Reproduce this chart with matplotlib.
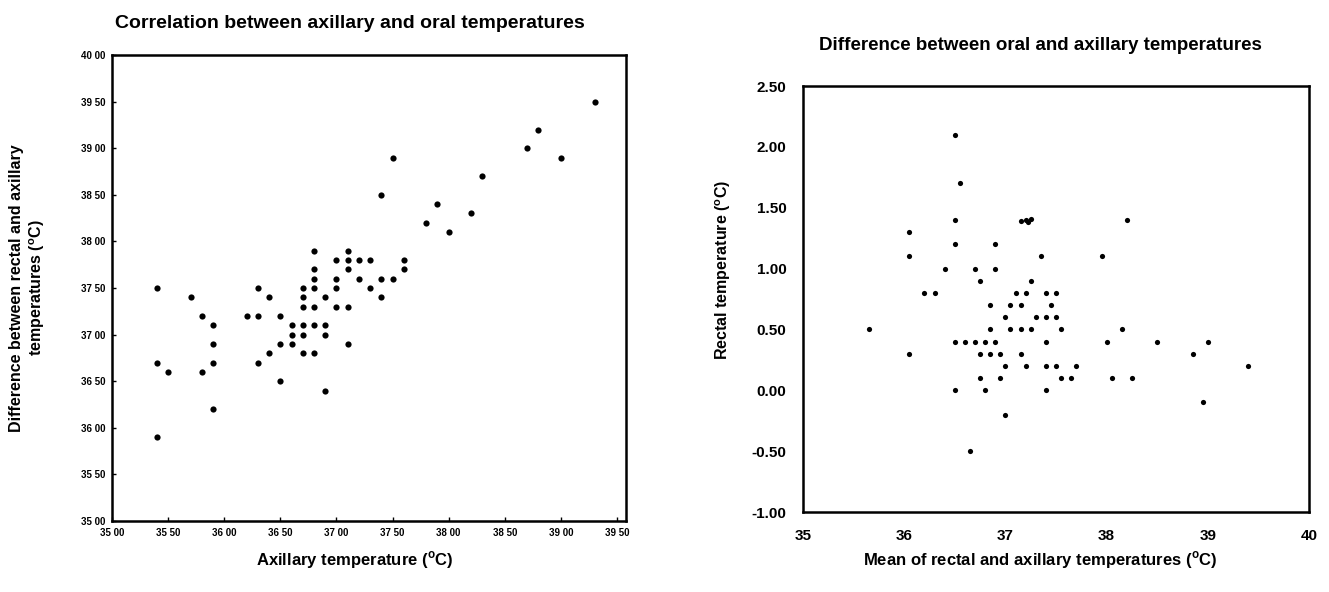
#!/usr/bin/env python3
"""Two scatter panels: axillary vs oral temperatures, and a difference plot."""

import matplotlib

matplotlib.use("Agg")
import matplotlib.pyplot as plt

# ---------------------------------------------------------------------------
# Data.
# ---------------------------------------------------------------------------
# Left panel: axillary temperature (x) vs the other reading (y)
LEFT_X = [
    35.4, 35.7, 36.3, 36.4, 36.7, 36.8, 37.0, 36.7, 36.9, 36.7, 36.8, 37.0,
    37.1, 36.8, 37.0, 37.1, 36.8, 37.2, 35.8, 36.2, 36.3, 36.5, 35.9, 36.6,
    36.7, 36.8, 36.9, 36.6, 36.7, 36.9, 35.9, 36.5, 36.6, 37.1, 36.4, 36.7,
    36.8, 35.4, 35.9, 36.3, 35.5, 35.8, 36.5, 36.9, 35.9, 35.4,
    36.8, 37.1, 37.0, 37.1, 37.2, 37.3, 37.6, 37.6, 37.4, 37.5, 37.3, 37.4,
    39.3, 38.8, 38.7, 39.0, 37.5, 38.3, 37.4, 37.9, 38.2, 37.8, 38.0,
]
LEFT_Y = [
    37.5, 37.4, 37.5, 37.4, 37.5, 37.5, 37.5, 37.4, 37.4, 37.3, 37.3, 37.3,
    37.3, 37.6, 37.6, 37.7, 37.7, 37.6, 37.2, 37.2, 37.2, 37.2, 37.1, 37.1,
    37.1, 37.1, 37.1, 37.0, 37.0, 37.0, 36.9, 36.9, 36.9, 36.9, 36.8, 36.8,
    36.8, 36.7, 36.7, 36.7, 36.6, 36.6, 36.5, 36.4, 36.2, 35.9,
    37.9, 37.9, 37.8, 37.8, 37.8, 37.8, 37.8, 37.7, 37.6, 37.6, 37.5, 37.4,
    39.5, 39.2, 39.0, 38.9, 38.9, 38.7, 38.5, 38.4, 38.3, 38.2, 38.1,
]

# Right panel: mean of the two readings (x) vs difference (y)
RIGHT_X = [
    36.5, 36.55, 36.5, 37.15, 37.2, 37.25, 37.22, 38.2, 36.05, 36.5, 36.9,
    36.05, 37.35, 37.95, 36.4, 36.7, 36.9,
    36.75, 37.25,
    36.2, 36.3, 37.1, 37.2, 37.4, 37.5,
    36.85, 37.05, 37.15, 37.45,
    37.0, 37.3, 37.4, 37.5,
    35.65, 36.85, 37.05, 37.15, 37.25, 37.55, 38.15,
    36.5, 36.6, 36.7, 36.8, 36.9, 37.4, 38.0, 38.5, 39.0,
    36.05, 36.75, 36.85, 36.95, 37.15, 38.85,
    37.0, 37.2, 37.4, 37.5, 37.7, 39.4,
    36.75, 36.95, 37.55, 37.65, 38.05, 38.25,
    36.5, 36.8, 37.4,
    37.0, 38.95, 36.65,
]
RIGHT_Y = [
    2.1, 1.7, 1.4, 1.39, 1.40, 1.41, 1.38, 1.4, 1.3, 1.2, 1.2,
    1.1, 1.1, 1.1, 1.0, 1.0, 1.0,
    0.9, 0.9,
    0.8, 0.8, 0.8, 0.8, 0.8, 0.8,
    0.7, 0.7, 0.7, 0.7,
    0.6, 0.6, 0.6, 0.6,
    0.5, 0.5, 0.5, 0.5, 0.5, 0.5, 0.5,
    0.4, 0.4, 0.4, 0.4, 0.4, 0.4, 0.4, 0.4, 0.4,
    0.3, 0.3, 0.3, 0.3, 0.3, 0.3,
    0.2, 0.2, 0.2, 0.2, 0.2, 0.2,
    0.1, 0.1, 0.1, 0.1, 0.1, 0.1,
    0.0, 0.0, 0.0,
    -0.2, -0.1, -0.5,
]

LEFT_TICKS = [35.0 + 0.5 * i for i in range(10)]
LEFT_YTICKS = [35.0 + 0.5 * i for i in range(11)]
RIGHT_XTICKS = [35, 36, 37, 38, 39, 40]
RIGHT_YTICKS = [-1.0, -0.5, 0.0, 0.5, 1.0, 1.5, 2.0, 2.5]

DEG = r"($^{\mathbf{o}}$C)"

W, H = 1329, 592
plt.rcParams["font.family"] = ["Liberation Sans", "DejaVu Sans"]
plt.rcParams["font.weight"] = "bold"
plt.rcParams["mathtext.fontset"] = "custom"
plt.rcParams["mathtext.bf"] = "Liberation Sans:bold"
plt.rcParams["mathtext.rm"] = "Liberation Sans:bold"


def px_box(x0, y0, x1, y1):
    """Pixel box (left, top, right, bottom) -> figure-fraction rect."""
    return [x0 / W, 1 - y1 / H, (x1 - x0) / W, (y1 - y0) / H]


def space_label(v):
    return f"{v:.2f}".replace(".", " ")


fig = plt.figure(figsize=(W / 100, H / 100), dpi=100)

# ---- left panel ----
ax_l = fig.add_axes(px_box(112, 55, 626, 521))
ax_l.scatter(LEFT_X, LEFT_Y, s=20, c="black", marker="o", linewidths=0)
ax_l.set_xlim(35, 39.58)
ax_l.set_ylim(35, 40)
ax_l.set_xticks(LEFT_TICKS)
ax_l.set_xticklabels([space_label(v) for v in LEFT_TICKS], fontsize=7)
ax_l.set_yticks(LEFT_YTICKS)
ax_l.set_yticklabels([space_label(v) for v in LEFT_YTICKS], fontsize=7)
ax_l.tick_params(direction="in", length=3, width=1, pad=5)

fig.text(350 / W, 1 - 24 / H, "Correlation between axillary and oral temperatures",
         ha="center", va="center", fontsize=14, fontweight="bold")
fig.text(355 / W, 1 - 560 / H, "Axillary temperature " + DEG,
         ha="center", va="center", fontsize=12, fontweight="bold")
fig.text(28 / W, 1 - 288 / H,
         "Difference between rectal and axillary\ntemperatures " + DEG,
         ha="center", va="center", rotation=90, fontsize=11.5,
         fontweight="bold", linespacing=1.2)

# ---- right panel ----
ax_r = fig.add_axes(px_box(803, 86, 1309, 512))
ax_r.scatter(RIGHT_X, RIGHT_Y, s=14, c="black", marker="o", linewidths=0)
ax_r.set_xlim(35, 40)
ax_r.set_ylim(-1.0, 2.5)
ax_r.set_xticks(RIGHT_XTICKS)
ax_r.set_xticklabels([str(v) for v in RIGHT_XTICKS], fontsize=11)
ax_r.set_yticks(RIGHT_YTICKS)
ax_r.set_yticklabels([f"{v:.2f}" for v in RIGHT_YTICKS], fontsize=11)
ax_r.tick_params(length=0, pad=12)

fig.text(1040 / W, 1 - 46 / H, "Difference between oral and axillary temperatures",
         ha="center", va="center", fontsize=13.5, fontweight="bold")
fig.text(1040 / W, 1 - 560 / H, "Mean of rectal and axillary temperatures " + DEG,
         ha="center", va="center", fontsize=12, fontweight="bold")
fig.text(723 / W, 1 - 270 / H, "Rectal temperature " + DEG,
         ha="center", va="center", rotation=90, fontsize=11.5, fontweight="bold")

for ax in (ax_l, ax_r):
    for spine in ax.spines.values():
        spine.set_linewidth(1.8)
        spine.set_color("black")

fig.savefig("out.png", dpi=100)
plt.close(fig)
